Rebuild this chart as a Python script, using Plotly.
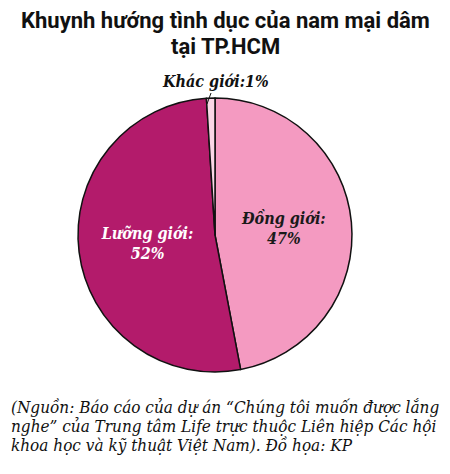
import plotly.graph_objects as go

# du lieu bieu do
nhom = ["Đồng giới", "Lưỡng giới", "Khác giới"]
ty_le = [47, 52, 1]
nhan = ["Đồng giới:<br>47%", "Lưỡng giới:<br>52%", "Khác giới:1%"]

tieu_de = ["Khuynh hướng tình dục của nam mại dâm", "tại TP.HCM"]
nguon = [
    "(Nguồn: Báo cáo của dự án “Chúng tôi muốn được lắng",
    "nghe” của Trung tâm Life trực thuộc Liên hiệp Các hội",
    "khoa học và kỹ thuật Việt Nam). Đồ họa: KP",
]

mau = ["#F49AC1", "#B31B6B", "#FAD6E6"]
mau_chu = ["#1a1a1a", "#ffffff", "#1a1a1a"]

W, H = 450, 474
SERIF = "DejaVu Serif Condensed"

fig = go.Figure()
fig.add_trace(go.Pie(
    labels=nhom,
    values=ty_le,
    text=nhan,
    textinfo="text",
    textposition=["inside", "inside", "none"],
    insidetextorientation="horizontal",
    sort=False,
    direction="clockwise",
    rotation=0,
    marker=dict(colors=mau, line=dict(color="#111111", width=1.5)),
    textfont=dict(family=SERIF, size=16, color=mau_chu, style="italic", weight="bold"),
    hoverinfo="label+percent",
    showlegend=False,
    domain=dict(x=[0.1556, 0.7644], y=[0.2321, 0.8101]),
))

ann = []
for i, dong in enumerate(tieu_de):
    ann.append(dict(
        text="<b>" + dong + "</b>", x=0.484, xanchor="center",
        y=1 - (12 + 26 * i) / H, yanchor="middle",
        xref="paper", yref="paper", showarrow=False,
        font=dict(family="Roboto", size=22, color="#111111"),
    ))

# nhan cho lat rat nho (1%) dat phia tren, co duong dan
ann.append(dict(
    text=nhan[2], x=199 / W, y=1 - 96 / H, xref="paper", yref="paper",
    showarrow=True, arrowhead=0, arrowwidth=1, arrowcolor="#111111",
    ax=8, ay=-22, standoff=0, startstandoff=0,
    font=dict(family=SERIF, size=16, color="#111111", style="italic", weight="bold"),
))

for i, dong in enumerate(nguon):
    ann.append(dict(
        text=dong, x=0.005, xanchor="left",
        y=1 - (399 + 19 * i) / H, yanchor="middle",
        xref="paper", yref="paper", showarrow=False, borderpad=0,
        font=dict(family=SERIF, size=17, color="#111111", style="italic"),
    ))

fig.update_layout(
    width=W, height=H,
    margin=dict(l=0, r=0, t=0, b=0),
    paper_bgcolor="white",
    plot_bgcolor="white",
    annotations=ann,
)

fig.write_html("out.html")
